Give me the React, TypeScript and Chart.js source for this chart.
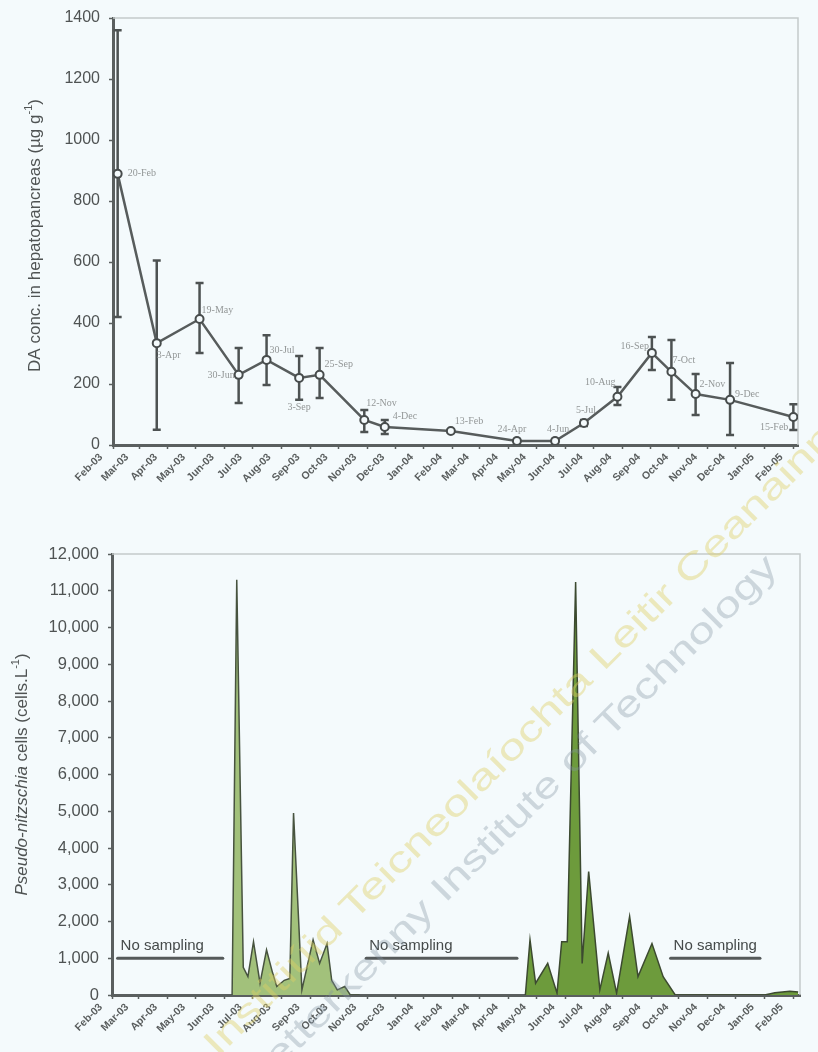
import { useEffect, useRef } from 'react';
import { Chart, registerables } from 'chart.js';

Chart.register(...registerables);

// ---------- helpers ----------
const MONTHS = ['Jan', 'Feb', 'Mar', 'Apr', 'May', 'Jun', 'Jul', 'Aug', 'Sep', 'Oct', 'Nov', 'Dec'];
const EPOCH = Date.UTC(2003, 1, 1);
const toDay = (iso: string): number => {
  const [y, m, d] = iso.split('-').map(Number);
  return Math.round((Date.UTC(y, m - 1, d) - EPOCH) / 86400000);
};
const shortDate = (iso: string): string => {
  const [, m, d] = iso.split('-').map(Number);
  return `${d}-${MONTHS[m - 1]}`;
};

// ---------- x axis (monthly, label at mid-month) ----------
const monthLabels = [
  'Feb-03', 'Mar-03', 'Apr-03', 'May-03', 'Jun-03', 'Jul-03', 'Aug-03', 'Sep-03', 'Oct-03',
  'Nov-03', 'Dec-03', 'Jan-04', 'Feb-04', 'Mar-04', 'Apr-04', 'May-04', 'Jun-04', 'Jul-04',
  'Aug-04', 'Sep-04', 'Oct-04', 'Nov-04', 'Dec-04', 'Jan-05', 'Feb-05',
];
const monthTickDays = monthLabels.map((l) => {
  const [mon, yy] = l.split('-');
  const mm = String(MONTHS.indexOf(mon) + 1).padStart(2, '0');
  return toDay(`20${yy}-${mm}-15`);
});

// ---------- DA in hepatopancreas (µg g-1) ----------
const daDates = [
  '2003-02-20', '2003-04-03', '2003-05-19', '2003-06-30', '2003-07-30', '2003-09-03',
  '2003-09-25', '2003-11-12', '2003-12-04', '2004-02-13', '2004-04-24', '2004-06-04',
  '2004-07-05', '2004-08-10', '2004-09-16', '2004-10-07', '2004-11-02', '2004-12-09',
  '2005-02-15',
];
const daMean = [889, 334, 413, 230, 279, 220, 230, 82, 59, 46, 13, 13, 72, 158, 302, 240, 167, 148, 92];
const daLower = [420, 50, 302, 138, 197, 148, 154, 43, 36, 40, 6, 6, 62, 131, 246, 148, 98, 33, 49];
const daUpper = [1360, 605, 531, 318, 360, 292, 318, 115, 82, 52, 20, 20, 82, 190, 354, 344, 233, 269, 134];
const daTicks = [0, 200, 400, 600, 800, 1000, 1200, 1400];

// where each date label sits relative to its point: [dx, dy, textAlign]
const daLabelPlacement: [number, number, CanvasTextAlign][] = [
  [10, 0, 'left'], [0, 12, 'left'], [2, -9, 'left'], [-4, 1, 'right'], [3, -10, 'left'],
  [0, 29, 'center'], [5, -10, 'left'], [2, -17, 'left'], [8, -11, 'left'], [4, -10, 'left'],
  [-5, -12, 'center'], [3, -12, 'center'], [2, -13, 'center'], [-2, -14, 'right'], [-3, -7, 'right'],
  [1, -11, 'left'], [4, -10, 'left'], [5, -5, 'left'], [-5, 10, 'right'],
];

// ---------- Pseudo-nitzschia cell counts (cells L-1) ----------
const pn2003Dates = [
  '2003-06-23', '2003-06-28', '2003-07-05', '2003-07-10', '2003-07-16', '2003-07-23',
  '2003-07-30', '2003-08-05', '2003-08-10', '2003-08-18', '2003-08-24', '2003-08-28',
  '2003-09-06', '2003-09-18', '2003-09-25', '2003-10-03', '2003-10-08', '2003-10-14',
  '2003-10-22', '2003-10-28', '2003-11-07',
];
const pn2003Cells = [
  0, 11300, 750, 500, 1450, 320, 1230, 650, 230, 400, 450, 4950,
  140, 1500, 860, 1400, 400, 140, 230, 0, 0,
];
const pn2004Dates = [
  '2004-05-03', '2004-05-08', '2004-05-14', '2004-05-27', '2004-06-06', '2004-06-11',
  '2004-06-17', '2004-06-26', '2004-07-03', '2004-07-10', '2004-07-22', '2004-07-31',
  '2004-08-09', '2004-08-23', '2004-09-01', '2004-09-16', '2004-09-28', '2004-10-11',
  '2005-01-15', '2005-01-26', '2005-02-11', '2005-02-20',
];
const pn2004Cells = [
  0, 1500, 320, 860, 50, 1450, 1450, 11240, 860, 3360, 140, 1140,
  50, 2140, 500, 1400, 500, 0, 0, 60, 100, 80,
];
const pnTicks = [0, 1000, 2000, 3000, 4000, 5000, 6000, 7000, 8000, 9000, 10000, 11000, 12000];

// periods without sampling
const noSamplingFrom = ['2003-02-20', '2003-11-14', '2004-10-06'];
const noSamplingTo = ['2003-06-13', '2004-04-24', '2005-01-10'];
const noSamplingLevel = 1000;

// ---------- styling ----------
const BG = '#f4fafc';
const AXIS = '#5a5f5f';
const TEXT = '#4f5353';
const SANS = "'Liberation Sans', Arial, sans-serif";

type Seg = { t: string; italic?: boolean; sup?: boolean };

const drawVerticalTitle = (ctx: CanvasRenderingContext2D, cx: number, cy: number, segs: Seg[], size: number) => {
  ctx.save();
  ctx.translate(cx, cy);
  ctx.rotate(-Math.PI / 2);
  ctx.fillStyle = TEXT;
  ctx.textBaseline = 'middle';
  ctx.textAlign = 'left';
  const fontOf = (s: Seg) => `${s.italic ? 'italic ' : ''}${s.sup ? Math.round(size * 0.62) : size}px ${SANS}`;
  let total = 0;
  segs.forEach((s) => { ctx.font = fontOf(s); total += ctx.measureText(s.t).width; });
  let x = -total / 2;
  segs.forEach((s) => {
    ctx.font = fontOf(s);
    ctx.fillText(s.t, x, s.sup ? -size * 0.38 : 0);
    x += ctx.measureText(s.t).width;
  });
  ctx.restore();
};

const framePlugin = {
  id: 'frame',
  beforeDatasetsDraw(chart: any) {
    const { ctx, chartArea: a } = chart;
    ctx.save();
    ctx.strokeStyle = '#c4caca';
    ctx.lineWidth = 1.5;
    ctx.beginPath();
    ctx.moveTo(a.left, a.top);
    ctx.lineTo(a.right, a.top);
    ctx.lineTo(a.right, a.bottom);
    ctx.stroke();
    ctx.restore();
  },
};

const fitX = (h: number) => (scale: any) => {
  scale.height = h;
  scale.paddingLeft = 0;
  scale.paddingRight = 0;
};
const fitY = (w: number) => (scale: any) => {
  scale.width = w;
  scale.paddingTop = 0;
  scale.paddingBottom = 0;
};

const xAxis = (min: number, max: number, height: number) => ({
  type: 'linear',
  min,
  max,
  afterBuildTicks: (scale: any) => {
    scale.ticks = monthTickDays.map((v) => ({ value: v }));
  },
  afterFit: fitX(height),
  ticks: {
    autoSkip: false,
    minRotation: 45,
    maxRotation: 45,
    labelOffset: -12,
    padding: 2,
    color: '#5a5e5e',
    font: { family: SANS, size: 10.5, weight: 'bold' },
    callback: (_v: any, i: number) => monthLabels[i],
  },
  grid: { drawOnChartArea: false, drawTicks: true, tickLength: 4, tickColor: AXIS, tickWidth: 1.5 },
  border: { color: AXIS, width: 3 },
});

export default function App() {
  const topRef = useRef<HTMLCanvasElement>(null);
  const botRef = useRef<HTMLCanvasElement>(null);

  useEffect(() => {
    const daX = daDates.map(toDay);

    const errorBars = {
      id: 'errorBars',
      beforeDatasetsDraw(chart: any) {
        const { ctx, scales } = chart;
        ctx.save();
        ctx.strokeStyle = '#4d5252';
        ctx.lineWidth = 2.5;
        daX.forEach((d, i) => {
          const px = scales.x.getPixelForValue(d);
          const top = scales.y.getPixelForValue(daUpper[i]);
          const bot = scales.y.getPixelForValue(daLower[i]);
          ctx.beginPath();
          ctx.moveTo(px, top);
          ctx.lineTo(px, bot);
          ctx.moveTo(px - 4, top);
          ctx.lineTo(px + 4, top);
          ctx.moveTo(px - 4, bot);
          ctx.lineTo(px + 4, bot);
          ctx.stroke();
        });
        ctx.restore();
      },
    };

    const dateLabels = {
      id: 'dateLabels',
      afterDatasetsDraw(chart: any) {
        const { ctx } = chart;
        const pts = chart.getDatasetMeta(0).data;
        ctx.save();
        ctx.fillStyle = '#939797';
        ctx.font = "10px 'Liberation Serif', 'Times New Roman', serif";
        ctx.textBaseline = 'middle';
        daDates.forEach((d, i) => {
          const [dx, dy, al] = daLabelPlacement[i];
          ctx.textAlign = al;
          ctx.fillText(shortDate(d), pts[i].x + dx, pts[i].y + dy);
        });
        ctx.restore();
      },
    };

    const topTitle = {
      id: 'topTitle',
      afterDraw(chart: any) {
        const a = chart.chartArea;
        drawVerticalTitle(chart.ctx, 35, (a.top + a.bottom) / 2 + 4, [
          { t: 'DA conc. in hepatopancreas (µg g' }, { t: '-1', sup: true }, { t: ')' },
        ], 17);
      },
    };

    const top = new Chart(topRef.current!, {
      type: 'line',
      data: {
        datasets: [{
          data: daX.map((x, i) => ({ x, y: daMean[i] })),
          borderColor: '#575c5c',
          borderWidth: 2.5,
          pointRadius: 4,
          pointBorderWidth: 2,
          pointBorderColor: '#474c4c',
          pointBackgroundColor: BG,
          tension: 0,
        }],
      },
      options: {
        responsive: false,
        animation: false,
        layout: { padding: { top: 18, right: 20, left: 0, bottom: 0 } },
        plugins: { legend: { display: false }, tooltip: { enabled: false } },
        scales: {
          x: xAxis(toDay('2003-02-15'), toDay('2005-02-20'), 77) as any,
          y: {
            min: 0,
            max: 1400,
            afterBuildTicks: (scale: any) => { scale.ticks = daTicks.map((v) => ({ value: v })); },
            afterFit: fitY(113),
            ticks: {
              color: TEXT,
              padding: 9,
              font: { family: SANS, size: 16 },
              callback: (v: any) => String(v),
            },
            grid: { drawOnChartArea: false, drawTicks: true, tickLength: 4, tickColor: AXIS, tickWidth: 1.5 },
            border: { color: AXIS, width: 3 },
          },
        },
      },
      plugins: [framePlugin, errorBars, dateLabels, topTitle],
    });

    const noSampling = {
      id: 'noSampling',
      afterDatasetsDraw(chart: any) {
        const { ctx, scales } = chart;
        ctx.save();
        ctx.strokeStyle = '#555a5a';
        ctx.fillStyle = '#454a4a';
        ctx.lineWidth = 3;
        ctx.lineCap = 'round';
        ctx.font = `15px ${SANS}`;
        ctx.textAlign = 'left';
        ctx.textBaseline = 'alphabetic';
        noSamplingFrom.forEach((f, i) => {
          const x0 = scales.x.getPixelForValue(toDay(f));
          const x1 = scales.x.getPixelForValue(toDay(noSamplingTo[i]));
          const y = scales.y.getPixelForValue(noSamplingLevel);
          ctx.beginPath();
          ctx.moveTo(x0, y);
          ctx.lineTo(x1, y);
          ctx.stroke();
          ctx.fillText('No sampling', x0 + 3, y - 8);
        });
        ctx.restore();
      },
    };

    const botTitle = {
      id: 'botTitle',
      afterDraw(chart: any) {
        const a = chart.chartArea;
        drawVerticalTitle(chart.ctx, 22, (a.top + a.bottom) / 2, [
          { t: 'Pseudo-nitzschia', italic: true }, { t: ' cells (cells.L' }, { t: '-1', sup: true }, { t: ')' },
        ], 17);
      },
    };

    const bot = new Chart(botRef.current!, {
      type: 'line',
      data: {
        datasets: [
          {
            data: pn2003Dates.map((d, i) => ({ x: toDay(d), y: pn2003Cells[i] })),
            borderColor: '#47533f',
            backgroundColor: '#a2c17b',
            borderWidth: 1.5,
            fill: 'origin',
            pointRadius: 0,
            tension: 0,
          },
          {
            data: pn2004Dates.map((d, i) => ({ x: toDay(d), y: pn2004Cells[i] })),
            borderColor: '#3c4a30',
            backgroundColor: '#6d9b3c',
            borderWidth: 1.5,
            fill: 'origin',
            pointRadius: 0,
            tension: 0,
          },
        ],
      },
      options: {
        responsive: false,
        animation: false,
        layout: { padding: { top: 32, right: 18, left: 0, bottom: 0 } },
        plugins: { legend: { display: false }, tooltip: { enabled: false } },
        scales: {
          x: xAxis(toDay('2003-02-14'), toDay('2005-02-22'), 57) as any,
          y: {
            min: 0,
            max: 12000,
            afterBuildTicks: (scale: any) => { scale.ticks = pnTicks.map((v) => ({ value: v })); },
            afterFit: fitY(112),
            ticks: {
              color: TEXT,
              padding: 9,
              font: { family: SANS, size: 16.5 },
              callback: (v: any) => Number(v).toLocaleString('en-US'),
            },
            grid: { drawOnChartArea: false, drawTicks: true, tickLength: 4, tickColor: AXIS, tickWidth: 1.5 },
            border: { color: AXIS, width: 3 },
          },
        },
      },
      plugins: [framePlugin, noSampling, botTitle],
    });

    return () => {
      top.destroy();
      bot.destroy();
    };
  }, []);

  return (
    <div style={{ position: 'fixed', left: 0, top: 0, width: 818, height: 1052, background: BG, overflow: 'hidden' }}>
      <canvas ref={topRef} width={818} height={522} style={{ position: 'absolute', left: 0, top: 0 }} />
      <canvas ref={botRef} width={818} height={530} style={{ position: 'absolute', left: 0, top: 522 }} />
      <svg width={818} height={1052} style={{ position: 'absolute', left: 0, top: 0, pointerEvents: 'none' }}>
        <text
          x={209}
          y={1049}
          transform="rotate(-45 209 1049)"
          textLength={875}
          lengthAdjust="spacingAndGlyphs"
          dominantBaseline="central"
          fill="rgba(222, 208, 100, 0.42)"
          fontFamily="'Liberation Sans', Arial, sans-serif"
          fontSize={36}
        >
          Institiúid Teicneolaíochta Leitir Ceanainn
        </text>
        <text
          x={251}
          y={1080}
          transform="rotate(-45 251 1080)"
          textLength={735}
          lengthAdjust="spacingAndGlyphs"
          dominantBaseline="central"
          fill="rgba(130, 145, 160, 0.35)"
          fontFamily="'Liberation Sans', Arial, sans-serif"
          fontSize={36}
        >
          Letterkenny Institute of Technology
        </text>
      </svg>
    </div>
  );
}
